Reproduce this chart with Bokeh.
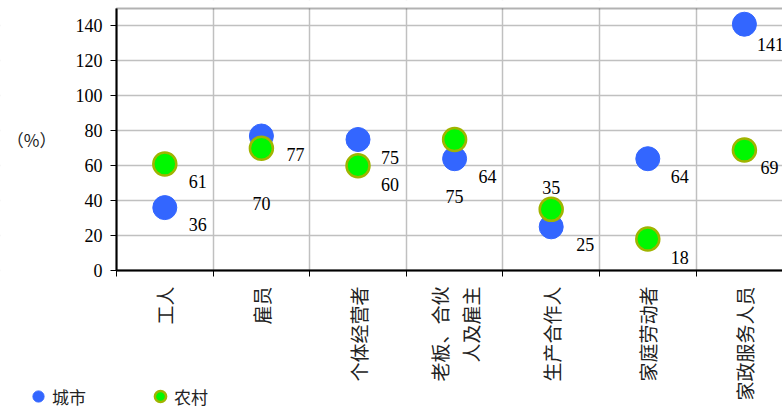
import math
from bokeh.plotting import figure
from bokeh.models import (ColumnDataSource, FixedTicker, BoxAnnotation, Legend, LegendItem)
from bokeh.embed import file_html
from bokeh.resources import INLINE

categories = ["工人", "雇员", "个体经营者", "老板、合伙\n人及雇主", "生产合作人", "家庭劳动者", "家政服务人员"]
city = [36, 77, 75, 64, 25, 64, 141]
rural = [61, 70, 60, 75, 35, 18, 69]
y_ticks = [0, 20, 40, 60, 80, 100, 120, 140]
series_names = ["城市", "农村"]

# label offsets (screen px), styling only
city_dx = [33, 34, 32, 33, 34, 32, 26]
city_dy = [17, 18, 18, 18, 18, 18, 20]
rural_dx = [33, 0, 32, 0, 0, 32, 25]
rural_dy = [18, 55, 19, 57, -22, 18, 18]

n = len(categories)
xs = [i + 0.5 for i in range(n)]
bounds_x = list(range(n + 1))
Y_MAX = 150

# frame covers the whole canvas; plot region mapped to px 116..782 x 8..270
W, H = 782, 410
left_px, top_px, bottom_px = 116, 8, 270
cat_px = 96.6
y_px = (bottom_px - top_px) / Y_MAX
x_range = (-left_px / cat_px, (W - left_px) / cat_px)
y_range = (-(H - bottom_px) / y_px, Y_MAX + top_px / y_px)

p = figure(width=W, height=H, output_backend="svg", toolbar_location=None,
           x_range=x_range, y_range=y_range,
           min_border_left=0, min_border_right=0, min_border_top=0, min_border_bottom=0)
p.outline_line_color = None
p.background_fill_color = "white"

# grids
p.xgrid.ticker = FixedTicker(ticks=bounds_x)
p.xgrid.grid_line_color = "#C0C0C0"
p.xgrid.grid_line_width = 1.5
p.ygrid.ticker = FixedTicker(ticks=y_ticks)
p.ygrid.grid_line_color = "#C0C0C0"
p.ygrid.grid_line_width = 1.5

# white masks outside the plotting region (keep grid inside it)
xl, xr = x_range[0] - 1, x_range[1] + 1
yb, yt = y_range[0] - 10, y_range[1] + 10
for kw in (dict(left=xl, right=xr, bottom=yb, top=0),
           dict(left=xl, right=0, bottom=yb, top=yt),
           dict(left=xl, right=xr, bottom=Y_MAX, top=yt)):
    p.add_layout(BoxAnnotation(fill_color="white", fill_alpha=1, line_color=None,
                               level="underlay", **kw))

# frame border (top, left, bottom)
p.add_layout(BoxAnnotation(left=0, right=n, bottom=0, top=Y_MAX, fill_alpha=0,
                           line_color="black", line_width=2, level="underlay"))

# axes fixed at data origin
p.xaxis.fixed_location = 0
p.xaxis.bounds = (0, n)
p.xaxis.ticker = FixedTicker(ticks=xs, minor_ticks=bounds_x)
p.xaxis.major_label_overrides = {x: c for x, c in zip(xs, categories)}
p.xaxis.major_label_orientation = math.pi / 2
p.xaxis.major_tick_line_color = None
p.xaxis.minor_tick_line_color = "black"
p.xaxis.minor_tick_out = 6
p.xaxis.minor_tick_in = 0
p.xaxis.axis_line_color = "black"
p.xaxis.axis_line_width = 2
p.xaxis.major_label_text_font = "Noto Sans CJK SC"
p.xaxis.major_label_text_font_size = "19px"
p.xaxis.major_label_text_line_height = 1.15
p.xaxis.major_label_text_color = "#222222"
p.xaxis.major_label_standoff = 10

p.yaxis.fixed_location = 0
p.yaxis.bounds = (0, Y_MAX)
p.yaxis.ticker = FixedTicker(ticks=y_ticks)
p.yaxis.axis_line_color = "black"
p.yaxis.axis_line_width = 2
p.yaxis.major_tick_line_color = "black"
p.yaxis.major_tick_out = 6
p.yaxis.major_tick_in = 0
p.yaxis.minor_tick_line_color = None
p.yaxis.major_label_text_font = "Liberation Serif"
p.yaxis.major_label_text_font_size = "18px"
p.yaxis.major_label_text_color = "black"
p.yaxis.major_label_standoff = 8
p.yaxis.axis_label = "（%）"
p.yaxis.axis_label_orientation = "horizontal"
p.yaxis.axis_label_text_font = "Noto Sans CJK SC"
p.yaxis.axis_label_text_font_size = "17px"
p.yaxis.axis_label_text_font_style = "normal"
p.yaxis.axis_label_text_color = "#222222"
p.yaxis.axis_label_standoff = 16

src_city = ColumnDataSource(dict(x=xs, y=city, t=[str(v) for v in city], dx=city_dx, dy=city_dy))
src_rural = ColumnDataSource(dict(x=xs, y=rural, t=[str(v) for v in rural], dx=rural_dx, dy=rural_dy))

r_city = p.scatter("x", "y", source=src_city, size=24, fill_color="#3366FF", line_color="#3366FF", line_width=1)
r_rural = p.scatter("x", "y", source=src_rural, size=23, fill_color="#00F800", line_color="#A0B400", line_width=2.5)

for src in (src_city, src_rural):
    p.text("x", "y", text="t", source=src, x_offset="dx", y_offset="dy",
           text_align="center", text_baseline="middle",
           text_font="Liberation Serif", text_font_size="18px", text_color="black")

legend = Legend(items=[LegendItem(label=series_names[0], renderers=[r_city]),
                       LegendItem(label=series_names[1], renderers=[r_rural])],
                orientation="horizontal", location=(24, 0),
                padding=0, margin=0, spacing=0, border_line_color=None,
                background_fill_color=None, background_fill_alpha=0,
                glyph_width=28, glyph_height=28, label_height=28, label_width=94,
                label_standoff=0, label_text_font="Noto Sans CJK SC",
                label_text_font_size="17px", label_text_color="#222222")
p.add_layout(legend, "center")

out = file_html(p, INLINE)
open("out.html", "w").write(out)
